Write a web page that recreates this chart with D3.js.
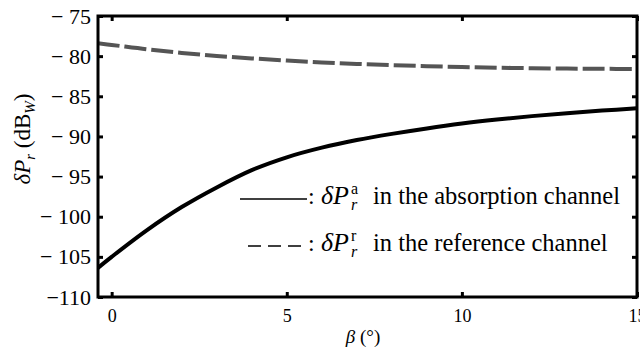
<!DOCTYPE html>
<html>
<head>
<meta charset="utf-8">
<script src="https://cdn.jsdelivr.net/npm/d3@7"></script>
<style>
  body { margin: 0; background: #fff; }
  text { font-family: "Liberation Serif", "DejaVu Serif", serif; fill: #000; }
</style>
</head>
<body>
<div id="chart"></div>
<script>
// beta (deg) sample points
var beta = [-0.4, 0, 1, 2, 3, 4, 5, 6, 7, 8, 9, 10, 11, 12, 13, 14, 15];
// absorption channel, dBW
var absorption = [-106.4, -105.0, -101.7, -98.8, -96.35, -94.2, -92.6, -91.4, -90.45,
                  -89.68, -89.0, -88.4, -87.9, -87.47, -87.1, -86.78, -86.5];
// reference channel, dBW
var reference = [-78.4, -78.6, -79.15, -79.6, -79.97, -80.28, -80.55, -80.78, -80.97,
                 -81.12, -81.25, -81.35, -81.44, -81.5, -81.55, -81.58, -81.6];
var xTicks = [0, 5, 10, 15];
var yTicks = [-75, -80, -85, -90, -95, -100, -105, -110];

var W = 640, H = 347;
var pLeft = 98, pRight = 637, pTop = 16, pBottom = 297;

var svg = d3.select("#chart")
  .append("svg")
  .attr("width", W)
  .attr("height", H);

var x = d3.scaleLinear().domain([-0.39, 15]).range([pLeft, pRight]);
var y = d3.scaleLinear().domain([-110, -75]).range([pBottom, pTop]);

// clip for curves
svg.append("clipPath").attr("id", "clip")
  .append("rect")
  .attr("x", pLeft).attr("y", pTop)
  .attr("width", pRight - pLeft).attr("height", pBottom - pTop);

var line = d3.line()
  .x(function(d) { return x(d[0]); })
  .y(function(d) { return y(d[1]); })
  .curve(d3.curveCatmullRom);

svg.append("path")
  .datum(d3.zip(beta, reference))
  .attr("clip-path", "url(#clip)")
  .attr("d", line)
  .attr("fill", "none")
  .attr("stroke", "#555")
  .attr("stroke-width", 4)
  .attr("stroke-dasharray", "22,5");

svg.append("path")
  .datum(d3.zip(beta, absorption))
  .attr("clip-path", "url(#clip)")
  .attr("d", line)
  .attr("fill", "none")
  .attr("stroke", "#000")
  .attr("stroke-width", 4);

// axes, ticks inward
var tk = 5;
var gx = svg.append("g").attr("transform", "translate(0," + pBottom + ")")
  .call(d3.axisBottom(x).tickValues(xTicks).tickSizeInner(-tk).tickSizeOuter(0).tickPadding(12)
    .tickFormat(d3.format("d")));
svg.append("g").attr("transform", "translate(0," + pTop + ")")
  .call(d3.axisTop(x).tickValues(xTicks).tickSizeInner(-tk).tickSizeOuter(0).tickFormat(""));
var gy = svg.append("g").attr("transform", "translate(" + pLeft + ",0)")
  .call(d3.axisLeft(y).tickValues(yTicks).tickSizeInner(-tk).tickSizeOuter(0).tickPadding(7)
    .tickFormat(function(d) { return d === -110 ? "\u2212110" : "\u2212 " + Math.abs(d); }));
svg.append("g").attr("transform", "translate(" + pRight + ",0)")
  .call(d3.axisRight(y).tickValues(yTicks).tickSizeInner(-tk).tickSizeOuter(0).tickFormat(""));

svg.selectAll(".domain").remove();
svg.selectAll(".tick line").attr("stroke", "#000").attr("stroke-width", 3);
svg.selectAll(".tick text").attr("fill", "#000");
gx.attr("font-family", null);
gy.attr("font-family", null);
gx.selectAll(".tick text").style("font-size", "18px");
gy.selectAll(".tick text").style("font-size", "22px");

// frame
svg.append("rect")
  .attr("x", pLeft).attr("y", pTop)
  .attr("width", pRight - pLeft).attr("height", pBottom - pTop)
  .attr("fill", "none").attr("stroke", "#000").attr("stroke-width", 3);

// x label
var xl = svg.append("text")
  .attr("x", 363).attr("y", 343)
  .attr("text-anchor", "middle")
  .style("font-size", "19px");
xl.append("tspan").style("font-style", "italic").text("\u03b2");
xl.append("tspan").text(" (\u00b0)");

// y label
var yl = svg.append("text")
  .attr("transform", "translate(30,139) rotate(-90)")
  .attr("text-anchor", "middle")
  .style("font-size", "23px");
yl.append("tspan").style("font-style", "italic").text("\u03b4P");
yl.append("tspan").style("font-style", "italic").style("font-size", "15px").attr("dy", 5).text("r");
yl.append("tspan").attr("dy", -5).text("  (dB");
yl.append("tspan").style("font-style", "italic").style("font-size", "15px").attr("dy", 5).text("W");
yl.append("tspan").attr("dy", -5).text(")");

// legend
var legend = [
  { y: 199, dash: null, sup: "a", label: "in the absorption channel", x0: 240 },
  { y: 246, dash: "13,7", sup: "r", label: "in the reference channel", x0: 248 }
];
legend.forEach(function(l) {
  svg.append("line")
    .attr("x1", l.x0).attr("x2", 307)
    .attr("y1", l.y).attr("y2", l.y)
    .attr("stroke", "#000").attr("stroke-width", 1.5)
    .attr("stroke-dasharray", l.dash);
  var base = l.y + 5;
  svg.append("text").attr("x", 308).attr("y", base).style("font-size", "24px").text(":");
  svg.append("text").attr("x", 321).attr("y", base).style("font-size", "26px")
    .style("font-style", "italic").text("\u03b4P");
  svg.append("text").attr("x", 351).attr("y", base - 10).style("font-size", "16px").text(l.sup);
  svg.append("text").attr("x", 351).attr("y", base + 6).style("font-size", "16px")
    .style("font-style", "italic").text("r");
  svg.append("text").attr("x", 373).attr("y", base).style("font-size", "24.5px").text(l.label);
});
</script>
</body>
</html>
